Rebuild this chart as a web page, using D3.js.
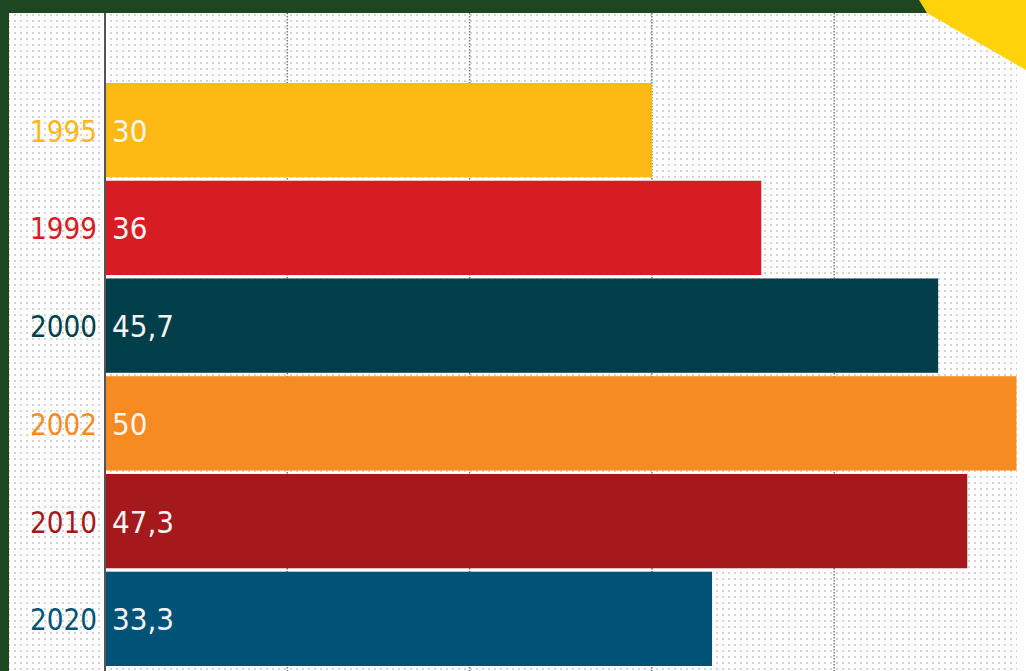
<!DOCTYPE html>
<html><head><meta charset="utf-8">
<script src="https://cdn.jsdelivr.net/npm/d3@7"></script>
<style>html,body{margin:0;padding:0;background:#1e4621;overflow:hidden}</style>
</head><body>
<script>
const years = ["1995","1999","2000","2002","2010","2020"];
const values = [30, 36, 45.7, 50, 47.3, 33.3];
const valueLabels = ["30","36","45,7","50","47,3","33,3"];
const colors = ["#fdb913","#d71c23","#003f4a","#f68b21","#a5181c","#005376"];
const gridTicks = [10, 20, 30, 40];

const W = 1026, H = 671;
const svg = d3.select("body").append("svg").attr("width", W).attr("height", H);
const defs = svg.append("defs");
const pat = defs.append("pattern").attr("id","dots").attr("width",6).attr("height",6).attr("patternUnits","userSpaceOnUse");
pat.append("rect").attr("width",6).attr("height",6).attr("fill","#ffffff");
pat.append("rect").attr("x",2).attr("y",2).attr("width",2).attr("height",2).attr("fill","#d4d4d4");

svg.append("rect").attr("width",W).attr("height",H).attr("fill","#1e4621");
svg.append("rect").attr("x",9).attr("y",13).attr("width",W-9).attr("height",H-13).attr("fill","url(#dots)");
svg.append("rect").attr("x",1017).attr("y",13).attr("width",9).attr("height",H-13).attr("fill","#ffffff");

const x = d3.scaleLinear().domain([0, 50]).range([105, 1016.5]);
const y = d3.scaleBand().domain(years).range([83, 666]).paddingInner(0.035).paddingOuter(0);

// grid
svg.append("g").selectAll("line").data(gridTicks).join("line")
  .attr("x1", d => x(d)).attr("x2", d => x(d)).attr("y1", 13).attr("y2", H)
  .attr("stroke", "#7a7a7a").attr("stroke-width", 1.5).attr("stroke-dasharray", "1.5,1.5");

// bars
svg.append("g").selectAll("rect").data(years).join("rect")
  .attr("x", x(0)).attr("y", d => y(d))
  .attr("width", (d,i) => x(values[i]) - x(0)).attr("height", y.bandwidth())
  .attr("fill", (d,i) => colors[i]);

// axis line
svg.append("line").attr("x1", x(0)).attr("x2", x(0)).attr("y1", 13).attr("y2", H)
  .attr("stroke", "#555").attr("stroke-width", 2);

const font = "'DejaVu Sans Condensed', 'DejaVu Sans', sans-serif";
svg.append("g").selectAll("text").data(years).join("text")
  .attr("x", 97).attr("y", d => y(d) + y.bandwidth()/2 + 11.5)
  .attr("text-anchor", "end").attr("font-family", font).attr("font-size", 31)
  .attr("textLength", 67).attr("lengthAdjust", "spacingAndGlyphs")
  .attr("fill", (d,i) => colors[i]).text(d => d);

svg.append("g").selectAll("text").data(years).join("text")
  .attr("x", 112).attr("y", d => y(d) + y.bandwidth()/2 + 11.5)
  .attr("font-family", font).attr("font-size", 31)
  .attr("fill", "#f4f4f4").text((d,i) => valueLabels[i]);

// yellow corner
svg.append("polygon").attr("points", "919,0 1026,0 1026,70 927,13").attr("fill", "#ffd20a");
</script>
</body></html>
